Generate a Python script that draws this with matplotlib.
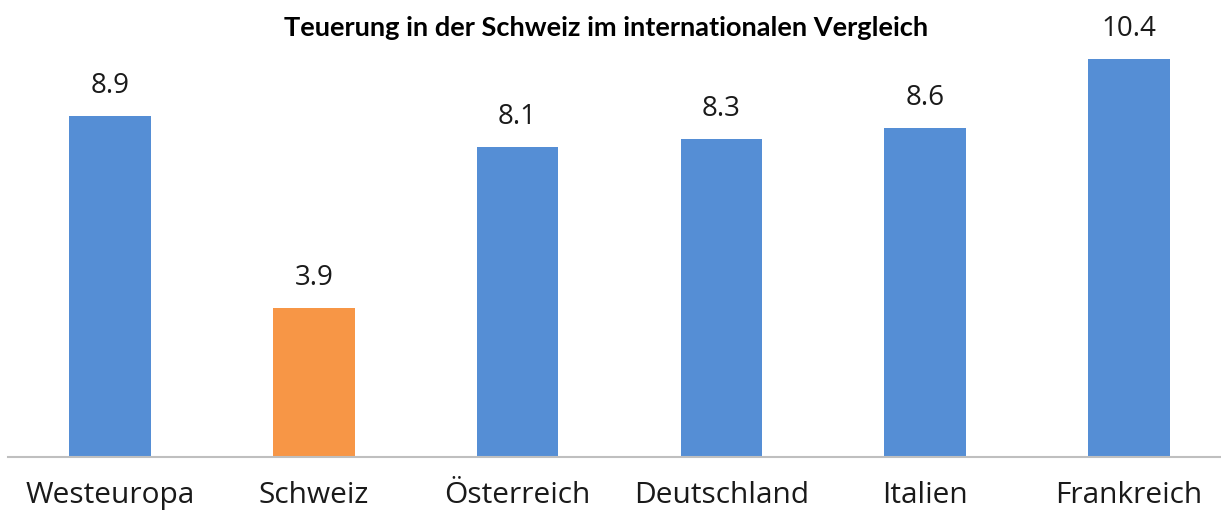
import matplotlib
matplotlib.use("Agg")
import matplotlib.pyplot as plt

categories = ["Westeuropa", "Schweiz", "Österreich", "Deutschland", "Italien", "Frankreich"]
values = [8.9, 3.9, 8.1, 8.3, 8.6, 10.4]
colors = ["#558ED5", "#F79646", "#558ED5", "#558ED5", "#558ED5", "#558ED5"]
title = "Teuerung in der Schweiz im internationalen Vergleich"

W, H = 1221, 511
fig = plt.figure(figsize=(W / 100, H / 100), dpi=100)
left = 8.1 / W
width = 1222.8 / W
bottom = (511 - 457) / H
ppu = 38.27
ymax = 11.6
ax = fig.add_axes([left, bottom, width, ymax * ppu / H])

x = list(range(len(categories)))
bars = ax.bar(x, values, width=0.40, color=colors, zorder=2)
ax.set_xlim(-0.5, len(categories) - 0.5)
ax.set_ylim(0, ymax)

for xi, v in zip(x, values):
    ax.text(xi, v + 0.42, f"{v:.1f}", ha="center", va="bottom",
            fontsize=20, family="Open Sans", color="#1a1a1a")

ax.set_xticks(x)
ax.set_xticklabels(categories, fontsize=21.5, family="Open Sans", color="#1a1a1a")
ax.tick_params(axis="x", length=0, pad=17)
ax.set_yticks([])
for s in ["top", "right", "left"]:
    ax.spines[s].set_visible(False)
ax.spines["bottom"].set_color("#BFBFBF")
ax.spines["bottom"].set_linewidth(1.5)

fig.text(606 / W, 1 - 28 / H, title, ha="center", va="center",
         fontsize=19.6, family="Lato", fontweight="bold", color="black")

fig.savefig("out.png", dpi=100)
